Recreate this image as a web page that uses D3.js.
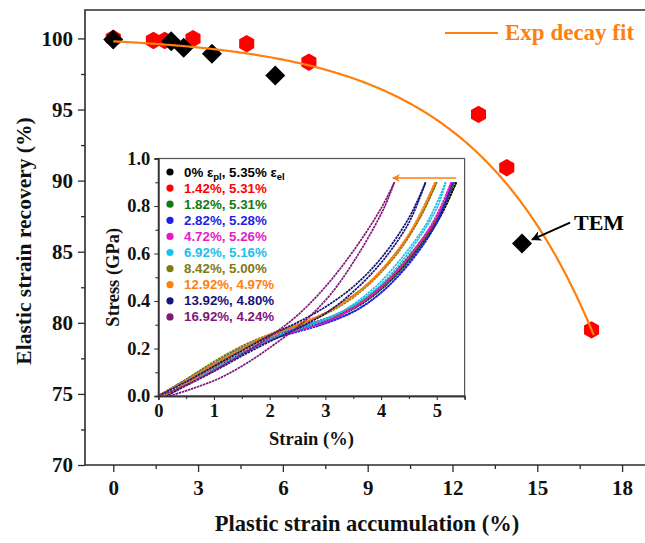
<!DOCTYPE html>
<html>
<head>
<meta charset="utf-8">
<script src="https://cdn.jsdelivr.net/npm/d3@7"></script>
<style>
  body { margin: 0; background: #fff; }
  svg { display: block; }
  .serif { font-family: "Liberation Serif", "DejaVu Serif", serif; font-weight: bold; }
  .sans { font-family: "Liberation Sans", Arial, sans-serif; font-weight: bold; }
</style>
</head>
<body>
<svg id="chart" width="645" height="543"></svg>
<script>
// ---- Main panel: elastic strain recovery vs plastic strain accumulation ----
const hexStrain = [0, 1.42, 1.82, 2.82, 4.72, 6.92, 12.92, 13.92, 16.92];
const hexRecovery = [100, 99.86, 99.86, 99.98, 99.63, 98.33, 94.66, 90.91, 79.5];
const diamondStrain = [0, 2.05, 2.49, 3.49, 5.73, 14.46];
const diamondRecovery = [99.93, 99.81, 99.35, 98.92, 97.4, 85.57];
// exponential decay fit: y = y0 - A * exp(x / t)
const fitY0 = 100.24, fitA = 0.443, fitT = 4.4;
const fitRange = [0, 17.0];
const xTicks = [0, 3, 6, 9, 12, 15, 18];
const xMinor = [1.5, 4.5, 7.5, 10.5, 13.5, 16.5];
const yTicks = [70, 75, 80, 85, 90, 95, 100];
const yMinor = [72.5, 77.5, 82.5, 87.5, 92.5, 97.5];
const temPoint = [14.46, 85.57];

// ---- Inset: stress-strain curves (loading / unloading) ----
const insetLabels = ["0%", "1.42%, 5.31%", "1.82%, 5.31%", "2.82%, 5.28%", "4.72%, 5.26%",
  "6.92%, 5.16%", "8.42%, 5.00%", "12.92%, 4.97%", "13.92%, 4.80%", "16.92%, 4.24%"];
const insetColors = ["#000000", "#ff0000", "#117a11", "#1f1fe6", "#e619c8",
  "#19c0ea", "#7f7a14", "#ff7f0e", "#14147a", "#80167a"];
const load0 = [[0,0],[0.5,0.065],[1,0.135],[1.5,0.2],[2,0.255],[2.5,0.29],[3,0.32],[3.5,0.37],[4,0.455],[4.5,0.575],[5,0.73],[5.35,0.9]];
const unload0 = [[5.35,0.9],[5.05,0.75],[4.6,0.6],[4.1,0.47],[3.6,0.38],[3,0.315],[2.5,0.28],[2,0.24],[1.5,0.18],[1,0.115],[0.5,0.05],[0.12,0]];
const load1 = [[0,0],[0.5,0.065],[1,0.135],[1.5,0.2],[2,0.255],[2.5,0.29],[3,0.325],[3.5,0.375],[4,0.46],[4.5,0.585],[5,0.745],[5.31,0.9]];
const unload1 = [[5.31,0.9],[5,0.74],[4.55,0.59],[4.05,0.47],[3.55,0.38],[3,0.32],[2.5,0.28],[2,0.24],[1.5,0.18],[1,0.115],[0.5,0.05],[0.12,0]];
const load2 = [[0,0],[0.5,0.07],[1,0.14],[1.5,0.205],[2,0.255],[2.5,0.29],[3,0.325],[3.5,0.38],[4,0.465],[4.5,0.59],[5,0.75],[5.31,0.9]];
const unload2 = [[5.31,0.9],[5,0.735],[4.55,0.585],[4.05,0.46],[3.55,0.375],[3,0.31],[2.5,0.275],[2,0.235],[1.5,0.175],[1,0.11],[0.5,0.05],[0.12,0]];
const load3 = [[0,0],[0.5,0.065],[1,0.13],[1.5,0.195],[2,0.25],[2.5,0.285],[3,0.31],[3.5,0.355],[4,0.435],[4.5,0.56],[5,0.73],[5.28,0.9]];
const unload3 = [[5.28,0.9],[5,0.73],[4.55,0.57],[4.05,0.445],[3.55,0.36],[3,0.305],[2.5,0.27],[2,0.235],[1.5,0.175],[1,0.11],[0.5,0.05],[0.12,0]];
const load4 = [[0,0],[0.5,0.065],[1,0.135],[1.5,0.2],[2,0.255],[2.5,0.29],[3,0.32],[3.5,0.37],[4,0.455],[4.5,0.585],[5,0.755],[5.26,0.9]];
const unload4 = [[5.26,0.9],[4.95,0.74],[4.5,0.585],[4,0.46],[3.5,0.37],[3,0.31],[2.5,0.275],[2,0.235],[1.5,0.175],[1,0.11],[0.5,0.05],[0.12,0]];
const load5 = [[0,0],[0.5,0.065],[1,0.135],[1.5,0.2],[2,0.255],[2.5,0.29],[3,0.325],[3.5,0.38],[4,0.47],[4.5,0.605],[5,0.79],[5.16,0.9]];
const unload5 = [[5.16,0.9],[4.85,0.74],[4.4,0.59],[3.9,0.46],[3.4,0.37],[3,0.32],[2.5,0.28],[2,0.24],[1.5,0.18],[1,0.115],[0.5,0.05],[0.12,0]];
const load6 = [[0,0],[0.5,0.07],[1,0.145],[1.5,0.21],[2,0.26],[2.5,0.3],[3,0.345],[3.5,0.415],[4,0.52],[4.5,0.67],[5,0.9]];
const unload6 = [[5,0.9],[4.7,0.75],[4.25,0.595],[3.75,0.47],[3.25,0.385],[2.75,0.32],[2.25,0.275],[1.75,0.225],[1.25,0.16],[0.75,0.09],[0.3,0.025],[0.1,0]];
const load7 = [[0,0],[0.5,0.065],[1,0.135],[1.5,0.2],[2,0.26],[2.5,0.305],[3,0.35],[3.5,0.42],[4,0.525],[4.5,0.68],[4.97,0.9]];
const unload7 = [[4.97,0.9],[4.65,0.74],[4.2,0.585],[3.7,0.46],[3.2,0.375],[2.7,0.315],[2.2,0.27],[1.7,0.215],[1.2,0.15],[0.7,0.08],[0.3,0.025],[0.1,0]];
const load8 = [[0,0],[0.5,0.06],[1,0.125],[1.5,0.19],[2,0.255],[2.5,0.31],[3,0.375],[3.5,0.46],[4,0.58],[4.5,0.75],[4.8,0.9]];
const unload8 = [[4.8,0.9],[4.5,0.73],[4.05,0.575],[3.55,0.45],[3.05,0.355],[2.55,0.29],[2.05,0.235],[1.55,0.175],[1.05,0.11],[0.55,0.05],[0.15,0]];
const load9 = [[0,0],[0.5,0.045],[1,0.105],[1.5,0.175],[2,0.25],[2.5,0.34],[3,0.46],[3.5,0.61],[4,0.79],[4.24,0.9]];
const unload9 = [[4.24,0.9],[4.05,0.79],[3.6,0.6],[3.1,0.43],[2.6,0.31],[2.1,0.22],[1.6,0.14],[1.1,0.075],[0.6,0.03],[0.2,0]];
const insetLoads = [load0, load1, load2, load3, load4, load5, load6, load7, load8, load9];
const insetUnloads = [unload0, unload1, unload2, unload3, unload4, unload5, unload6, unload7, unload8, unload9];
const insetXTicks = [0, 1, 2, 3, 4, 5];
const insetXMinor = [0.5, 1.5, 2.5, 3.5, 4.5];
const insetYTicks = [0, 0.2, 0.4, 0.6, 0.8, 1.0];
const insetYMinor = [0.1, 0.3, 0.5, 0.7, 0.9];
const insetArrow = [[5.35, 0.918], [4.21, 0.918]];

const svg = d3.select("#chart");
const orange = "#ff7f0e";
const frameColor = "#2b2b2b";

// scales
const x = d3.scaleLinear().domain([-1, 19.5]).range([85, 664.5]);
const y = d3.scaleLinear().domain([70, 102]).range([465, 10]);

// main axes
const gy = svg.append("g").attr("transform", "translate(85,0)")
  .call(d3.axisLeft(y).tickValues(yTicks).tickSize(7).tickPadding(5));
svg.append("g").attr("transform", "translate(85,0)")
  .call(d3.axisLeft(y).tickValues(yMinor).tickSize(4).tickFormat(""));
const gx = svg.append("g").attr("transform", "translate(0,465)")
  .call(d3.axisBottom(x).tickValues(xTicks).tickSize(7).tickPadding(8));
svg.append("g").attr("transform", "translate(0,465)")
  .call(d3.axisBottom(x).tickValues(xMinor).tickSize(4).tickFormat(""));
svg.selectAll(".domain").remove();
svg.selectAll(".tick line").attr("stroke", frameColor).attr("stroke-width", 1.3);
gy.selectAll("text").attr("class", "serif").style("font-size", "21px").attr("fill", "#111");
gx.selectAll("text").attr("class", "serif").style("font-size", "21px").attr("fill", "#111");

// frame (left, top, bottom)
svg.append("path")
  .attr("d", `M${x(19.5)},${y(102)}H${x(-1)}V${y(70)}H${x(19.5)}`)
  .attr("fill", "none").attr("stroke", frameColor).attr("stroke-width", 1.6);

// axis titles
svg.append("text").attr("class", "serif").attr("text-anchor", "middle")
  .attr("x", 367).attr("y", 531).style("font-size", "22.5px").attr("fill", "#111")
  .text("Plastic strain accumulation (%)");
svg.append("text").attr("class", "serif").attr("text-anchor", "middle")
  .attr("transform", "translate(31,241) rotate(-90)").style("font-size", "21.5px").attr("fill", "#111")
  .text("Elastic strain recovery (%)");

// ---- inset ----
const ix = d3.scaleLinear().domain([0, 5.5]).range([158.3, 464.6]);
const iy = d3.scaleLinear().domain([0, 1.0]).range([396, 158.5]);
const inset = svg.append("g");
inset.append("rect").attr("x", ix(0)).attr("y", iy(1)).attr("width", ix(5.5) - ix(0))
  .attr("height", iy(0) - iy(1)).attr("fill", "#fff").attr("stroke", "#555").attr("stroke-width", 1.2);

const line = d3.line().x(d => ix(d[0])).y(d => iy(d[1])).curve(d3.curveCatmullRom.alpha(0.5));
insetLoads.forEach((pts, i) => {
  inset.append("path").attr("d", line(pts)).attr("fill", "none")
    .attr("stroke", insetColors[i]).attr("stroke-width", 1.7).attr("stroke-dasharray", "2.5,0.7");
  inset.append("path").attr("d", line(insetUnloads[i])).attr("fill", "none")
    .attr("stroke", insetColors[i]).attr("stroke-width", 1.7).attr("stroke-dasharray", "2.5,0.7");
});

// inset axes
const igx = inset.append("g").attr("transform", `translate(0,${iy(0)})`)
  .call(d3.axisBottom(ix).tickValues(insetXTicks).tickSize(4).tickPadding(4).tickFormat(d3.format("d")));
inset.append("g").attr("transform", `translate(0,${iy(0)})`)
  .call(d3.axisBottom(ix).tickValues(insetXMinor).tickSize(3).tickFormat(""));
const igy = inset.append("g").attr("transform", `translate(${ix(0)},0)`)
  .call(d3.axisLeft(iy).tickValues(insetYTicks).tickSize(4).tickPadding(4).tickFormat(d3.format(".1f")));
inset.append("g").attr("transform", `translate(${ix(0)},0)`)
  .call(d3.axisLeft(iy).tickValues(insetYMinor).tickSize(3).tickFormat(""));
inset.selectAll(".domain").attr("stroke", "#333").attr("stroke-width", 1.4);
inset.selectAll(".tick line").attr("stroke", "#333").attr("stroke-width", 1.1);
igx.selectAll("text").attr("class", "serif").style("font-size", "18.5px").attr("fill", "#111");
igy.selectAll("text").attr("class", "serif").style("font-size", "18.5px").attr("fill", "#111");
inset.append("text").attr("class", "serif").attr("text-anchor", "middle")
  .attr("x", (ix(0) + ix(5.5)) / 2).attr("y", 445).style("font-size", "18.5px").attr("fill", "#111")
  .text("Strain (%)");
inset.append("text").attr("class", "serif").attr("text-anchor", "middle")
  .attr("transform", `translate(119,${(iy(0) + iy(1)) / 2}) rotate(-90)`).style("font-size", "18.5px").attr("fill", "#111")
  .text("Stress (GPa)");

// inset arrow
const defs = svg.append("defs");
defs.append("marker").attr("id", "headOrange").attr("viewBox", "0 0 10 10")
  .attr("refX", 9).attr("refY", 5).attr("markerWidth", 10).attr("markerHeight", 8)
  .attr("markerUnits", "userSpaceOnUse").attr("orient", "auto")
  .append("path").attr("d", "M0,0L10,5L0,10L3,5Z").attr("fill", orange);
defs.append("marker").attr("id", "headBlack").attr("viewBox", "0 0 10 10")
  .attr("refX", 9).attr("refY", 5).attr("markerWidth", 13).attr("markerHeight", 10)
  .attr("markerUnits", "userSpaceOnUse").attr("orient", "auto")
  .append("path").attr("d", "M0,0L10,5L0,10L3,5Z").attr("fill", "#000");
inset.append("line")
  .attr("x1", ix(insetArrow[0][0])).attr("y1", iy(insetArrow[0][1]))
  .attr("x2", ix(insetArrow[1][0])).attr("y2", iy(insetArrow[1][1]))
  .attr("stroke", orange).attr("stroke-width", 1.6).attr("marker-end", "url(#headOrange)");

// inset legend
const leg = inset.append("g");
insetLabels.forEach((lab, i) => {
  const yy = 172 + i * 16.1;
  leg.append("circle").attr("cx", 170).attr("cy", yy).attr("r", 3.6).attr("fill", insetColors[i]);
  const t = leg.append("text").attr("class", "sans").attr("x", 184).attr("y", yy + 4.5)
    .style("font-size", "13.3px").attr("fill", insetColors[i]);
  if (i === 0) {
    t.append("tspan").text("0% \u03b5");
    t.append("tspan").attr("dy", 3).style("font-size", "9.5px").text("pl");
    t.append("tspan").attr("dy", -3).text(", 5.35% \u03b5");
    t.append("tspan").attr("dy", 3).style("font-size", "9.5px").text("el");
  } else {
    t.text(lab);
  }
});

// ---- main data markers ----
function hexPath(cx, cy, r) {
  const pts = d3.range(6).map(k => {
    const a = Math.PI / 6 + k * Math.PI / 3;
    return [cx + r * Math.cos(a), cy + r * Math.sin(a)];
  });
  return "M" + pts.map(p => p.join(",")).join("L") + "Z";
}
function diamondPath(cx, cy, r) {
  return `M${cx},${cy - r}L${cx + r},${cy}L${cx},${cy + r}L${cx - r},${cy}Z`;
}
svg.append("g").selectAll("path").data(hexStrain).join("path")
  .attr("d", (d, i) => hexPath(x(d), y(hexRecovery[i]), 8.7)).attr("fill", "#ff0000");
svg.append("g").selectAll("path").data(diamondStrain).join("path")
  .attr("d", (d, i) => diamondPath(x(d), y(diamondRecovery[i]), 10)).attr("fill", "#000");

// exponential decay fit
const fitPts = d3.range(fitRange[0], fitRange[1] + 1e-9, 0.05).map(v => [v, fitY0 - fitA * Math.exp(v / fitT)]);
svg.append("path").attr("d", d3.line().x(d => x(d[0])).y(d => y(d[1])).curve(d3.curveLinear)(fitPts))
  .attr("fill", "none").attr("stroke", orange).attr("stroke-width", 2.2);

// fit legend
svg.append("line").attr("x1", 445).attr("x2", 498).attr("y1", 33).attr("y2", 33)
  .attr("stroke", orange).attr("stroke-width", 2.2);
svg.append("text").attr("class", "serif").attr("x", 505).attr("y", 40)
  .style("font-size", "23px").attr("fill", orange).text("Exp decay fit");

// TEM annotation
svg.append("line")
  .attr("x1", x(temPoint[0]) + 48).attr("y1", y(temPoint[1]) - 21)
  .attr("x2", x(temPoint[0]) + 10).attr("y2", y(temPoint[1]) - 4)
  .attr("stroke", "#000").attr("stroke-width", 2).attr("marker-end", "url(#headBlack)");
svg.append("text").attr("class", "serif").attr("x", x(temPoint[0]) + 52).attr("y", y(temPoint[1]) - 14)
  .style("font-size", "22px").attr("fill", "#000").text("TEM");
</script>
</body>
</html>
